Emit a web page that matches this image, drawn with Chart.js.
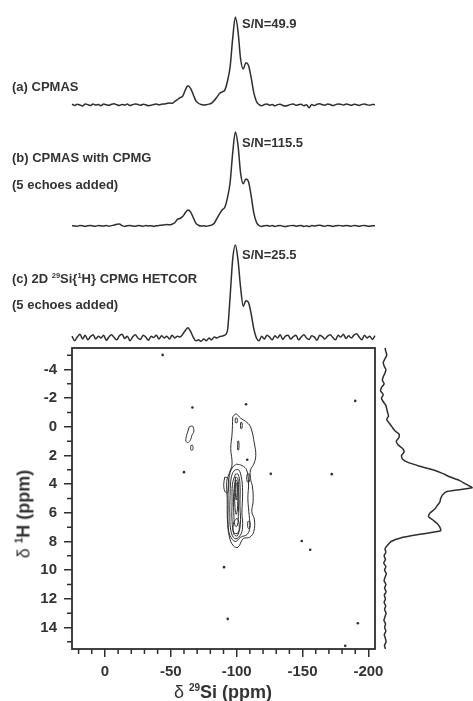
<!DOCTYPE html>
<html>
<head>
<meta charset="utf-8">
<script src="https://cdn.jsdelivr.net/npm/chart.js@4.4.1/dist/chart.umd.min.js"></script>
<style>
  html, body { margin: 0; padding: 0; background: #fff; }
  #fig { position: relative; width: 473px; height: 701px; overflow: hidden; color: #333;
         font-family: "Liberation Sans", Arial, sans-serif; }
  #fig canvas { position: absolute; }
  .lbl { position: absolute; font-weight: bold; font-size: 13px; line-height: 14px; white-space: nowrap; }
  .sp { font-size: 7.5px; position: relative; top: -5px; }
  .title { position: absolute; font-weight: bold; font-size: 18px; white-space: nowrap; line-height: 20px; }
  .title .d { font-weight: normal; }
  .title .sp { font-size: 10px; top: -7px; }
</style>
</head>
<body>
<div id="fig">
  <canvas id="spectra" width="473" height="345" style="left:0;top:0"></canvas>
  <canvas id="hetcor" width="400" height="381" style="left:0;top:320px"></canvas>
  <canvas id="proj" width="95" height="361" style="left:378px;top:340px"></canvas>

  <div class="lbl" style="left:12px;top:80px">(a) CPMAS</div>
  <div class="lbl" style="left:242px;top:17px">S/N=49.9</div>
  <div class="lbl" style="left:12px;top:151px">(b) CPMAS with CPMG</div>
  <div class="lbl" style="left:12px;top:178px">(5 echoes added)</div>
  <div class="lbl" style="left:242px;top:136px">S/N=115.5</div>
  <div class="lbl" style="left:12px;top:272px">(c) 2D <span class="sp">29</span>Si{<span class="sp">1</span>H} CPMG HETCOR</div>
  <div class="lbl" style="left:12px;top:298px">(5 echoes added)</div>
  <div class="lbl" style="left:242px;top:248px">S/N=25.5</div>

  <div class="title" style="left:223px;top:693px;transform:translate(-50%,-50%)"><span class="d">δ</span> <span class="sp">29</span>Si (ppm)</div>
  <div class="title" style="left:25px;top:514px;transform:translate(-50%,-50%) rotate(-90deg)"><span class="d">δ</span> <span class="sp">1</span>H (ppm)</div>
</div>
<script>
// 29Si chemical shift grid (ppm) shared by the three 1D spectra
const ppmSi = [
  25, 23, 21, 19, 17, 15, 13, 11, 9, 7, 5, 3,
  1, -1, -3, -5, -7, -9, -11, -13, -15, -17, -19, -21,
  -23, -25, -27, -29, -31, -33, -35, -37, -39, -41, -43, -45,
  -47, -49, -51, -53, -55, -57, -59, -61, -63, -65, -67, -69,
  -71, -73, -75, -77, -79, -81, -83, -85, -87, -89, -91, -93,
  -95, -97, -99, -101, -103, -105, -107, -109, -111, -113, -115, -117,
  -119, -121, -123, -125, -127, -129, -131, -133, -135, -137, -139, -141,
  -143, -145, -147, -149, -151, -153, -155, -157, -159, -161, -163, -165,
  -167, -169, -171, -173, -175, -177, -179, -181, -183, -185, -187, -189,
  -191, -193, -195, -197, -199, -201, -203, -205
];

// normalised intensities (main Q4 peak = 1)
const specA = [
  0.010, -0.005, 0.008, 0.000, -0.010, 0.012, 0.004, -0.006, 0.010, 0.000, 0.006, -0.008,
  0.011, 0.003, -0.004, 0.009, 0.013, 0.002, -0.006, 0.007, 0.000, 0.010, -0.005, 0.004,
  0.012, 0.006, -0.003, 0.008, 0.002, -0.009, -0.004, 0.006, 0.010, 0.003, 0.009, 0.012,
  0.018, 0.022, 0.020, 0.040, 0.060, 0.085, 0.100, 0.170, 0.220, 0.190, 0.120, 0.050,
  0.020, 0.005, 0.000, 0.004, 0.010, 0.020, 0.050, 0.090, 0.130, 0.150, 0.170, 0.270,
  0.430, 0.760, 1.000, 0.840, 0.520, 0.410, 0.480, 0.450, 0.310, 0.140, 0.040, 0.005,
  -0.008, 0.005, 0.010, -0.004, 0.006, -0.010, 0.004, 0.008, -0.006, -0.012, -0.005, 0.007,
  0.012, -0.003, 0.004, 0.009, -0.008, 0.002, -0.030, 0.005, -0.006, 0.008, 0.014, 0.003,
  -0.002, 0.010, 0.006, -0.007, 0.004, 0.012, 0.008, 0.000, 0.010, 0.006, -0.004, 0.009,
  0.003, -0.005, 0.007, 0.011, 0.002, -0.003, 0.006, 0.004
];
const specB = [
  0.004, 0.000, -0.003, 0.005, 0.002, -0.004, 0.003, 0.006, 0.000, -0.002, 0.004, 0.002,
  0.000, 0.005, -0.003, 0.004, 0.010, 0.018, 0.020, 0.004, -0.004, 0.003, 0.006, 0.000,
  -0.003, 0.004, 0.002, -0.002, 0.005, 0.000, 0.003, -0.004, 0.002, 0.006, 0.008, 0.012,
  0.015, 0.012, 0.020, 0.035, 0.070, 0.080, 0.100, 0.140, 0.170, 0.150, 0.090, 0.030,
  0.008, 0.000, 0.002, -0.002, 0.003, 0.010, 0.030, 0.080, 0.130, 0.170, 0.200, 0.300,
  0.460, 0.780, 1.000, 0.860, 0.560, 0.450, 0.500, 0.470, 0.320, 0.140, 0.040, 0.005,
  -0.004, 0.003, 0.006, -0.002, 0.004, -0.005, 0.002, 0.006, -0.003, -0.006, 0.000, 0.004,
  0.006, -0.002, 0.003, 0.005, -0.004, 0.002, -0.006, 0.004, 0.000, 0.006, 0.008, 0.002,
  -0.002, 0.005, 0.003, -0.004, 0.002, 0.006, 0.004, 0.000, 0.005, 0.003, -0.002, 0.004,
  0.002, -0.003, 0.004, 0.006, 0.000, -0.002, 0.003, 0.002
];
const specC = [
  0.020, -0.030, 0.010, 0.040, -0.010, 0.030, -0.020, 0.015, 0.035, -0.010, 0.020, 0.000,
  0.030, -0.025, 0.010, 0.035, 0.005, -0.020, 0.025, 0.040, -0.005, 0.020, -0.030, 0.010,
  0.035, 0.000, -0.015, 0.030, 0.010, -0.025, 0.020, 0.005, 0.030, -0.010, 0.025, 0.000,
  0.020, -0.010, 0.030, 0.000, 0.020, 0.010, 0.040, 0.080, 0.110, 0.070, 0.010, -0.030,
  -0.020, -0.035, -0.010, -0.030, 0.000, -0.020, 0.010, 0.000, 0.015, 0.020, 0.030, 0.080,
  0.440, 0.850, 1.000, 0.840, 0.540, 0.340, 0.400, 0.380, 0.260, 0.100, 0.000, -0.030,
  0.020, -0.010, 0.030, 0.010, -0.020, 0.025, 0.000, 0.035, -0.015, 0.020, 0.030, -0.010,
  0.015, 0.030, -0.020, 0.010, 0.035, 0.000, -0.015, 0.025, 0.010, -0.025, 0.030, 0.015,
  -0.010, 0.020, 0.035, 0.005, -0.020, 0.030, 0.010, 0.040, -0.005, 0.025, 0.000, 0.030,
  0.045, 0.010, -0.020, 0.030, 0.000, 0.020, -0.015, 0.025
];

// 1H projection of the HETCOR
const ppmH = [
  -5.5, -5.25, -5, -4.75, -4.5, -4.25, -4, -3.75, -3.5, -3.25, -3, -2.75,
  -2.5, -2.25, -2, -1.75, -1.5, -1.25, -1, -0.75, -0.5, -0.25, 0, 0.25,
  0.5, 0.75, 1, 1.25, 1.5, 1.75, 2, 2.25, 2.5, 2.75, 3, 3.25,
  3.5, 3.75, 4, 4.25, 4.5, 4.75, 5, 5.25, 5.5, 5.75, 6, 6.25,
  6.5, 6.75, 7, 7.25, 7.5, 7.75, 8, 8.25, 8.5, 8.75, 9, 9.25,
  9.5, 9.75, 10, 10.25, 10.5, 10.75, 11, 11.25, 11.5, 11.75, 12, 12.25,
  12.5, 12.75, 13, 13.25, 13.5, 13.75, 14, 14.25, 14.5, 14.75, 15, 15.25,
  15.5
];
const projH = [
  0.000, 0.010, 0.020, 0.000, -0.020, -0.010, 0.010, 0.000, -0.020, -0.030, -0.010, -0.040,
  -0.050, -0.020, -0.040, -0.020, 0.010, 0.020, 0.030, 0.040, 0.020, 0.050, 0.080, 0.110,
  0.160, 0.160, 0.130, 0.150, 0.200, 0.220, 0.190, 0.200, 0.270, 0.400, 0.550, 0.660,
  0.750, 0.860, 0.930, 1.000, 0.720, 0.660, 0.640, 0.630, 0.600, 0.570, 0.520, 0.500,
  0.550, 0.600, 0.630, 0.640, 0.400, 0.180, 0.070, 0.030, 0.000, 0.010, -0.010, 0.005,
  -0.015, 0.010, -0.005, 0.015, 0.000, -0.010, 0.010, -0.005, 0.012, -0.008, 0.005, -0.010,
  0.008, -0.005, 0.012, 0.000, -0.012, 0.006, -0.004, 0.010, -0.008, 0.004, 0.012, -0.006,
  0.005
];

// HETCOR contours, [29Si ppm, 1H ppm], lowest level first
const contourOuter = [[-97, -0.7], [-99.5, -0.9], [-103, -0.6], [-106.5, -0.4], [-110.5, 0], [-113.5, 1.2],
  [-114.5, 2], [-113, 2.6], [-110.5, 3], [-110.5, 3.6], [-112, 4.2], [-112.5, 5.2], [-111.5, 5.9],
  [-113.5, 6.5], [-113, 7.3], [-110, 7.7], [-105, 7.8], [-101, 8.4], [-97.5, 8.3], [-94.5, 7.7],
  [-93, 6.5], [-92.8, 5], [-92.5, 3.8], [-94.5, 3.2], [-96.5, 2.6], [-95.5, 1.5], [-96.5, 0.5], [-97, -0.7]];
const contour2 = [[-100, 2.6], [-104, 2.7], [-107.5, 3], [-109, 3.9], [-108.5, 5], [-109.5, 6.2], [-110, 7],
  [-108, 7.5], [-103, 7.7], [-99, 8], [-95, 7.6], [-93.5, 6.8], [-93.5, 5.5], [-93.5, 4.5], [-94.5, 3.4],
  [-97, 2.8], [-100, 2.6]];
const contour3 = [[-99, 3], [-101.5, 3], [-103.5, 3.5], [-104.5, 4.5], [-104, 6], [-104.5, 7], [-102.5, 7.6],
  [-98.5, 7.8], [-95.5, 7.2], [-94.8, 6], [-95, 4.8], [-95.5, 3.8], [-97, 3.2], [-99, 3]];
const contour4 = [[-99, 3.3], [-101, 3.3], [-102.5, 4], [-102.5, 5.5], [-102.8, 6.8], [-101, 7.4], [-98, 7.4],
  [-96.5, 6.6], [-96.5, 5.2], [-96.8, 4], [-99, 3.3]];
const contour5 = [[-99.2, 3.5], [-100.8, 3.6], [-101.5, 4.5], [-101.3, 6], [-100.5, 6.9], [-98.8, 6.9],
  [-97.8, 6], [-97.8, 4.6], [-99.2, 3.5]];
const contour6 = [[-99.3, 3.7], [-100.4, 3.8], [-100.8, 4.6], [-100.5, 5.8], [-99.5, 6.1], [-98.6, 5.4],
  [-98.6, 4.3], [-99.3, 3.7]];
const contour7 = [[-99.4, 3.9], [-100.1, 4], [-100.2, 4.8], [-99.6, 5.1], [-99, 4.6], [-99, 4.1], [-99.4, 3.9]];
const lobeLow = [[-98, 6.6], [-100.5, 6.4], [-102, 7], [-100.5, 7.6], [-98, 7.5], [-97.2, 7], [-98, 6.6]];
const lobeLeft = [[-91, 3.5], [-93.5, 3.6], [-94, 4.1], [-93, 4.6], [-91, 4.5], [-90.2, 4], [-91, 3.5]];
const lobeQ3a = [[-108, 3.3], [-109.5, 3.3], [-110, 3.6], [-109, 3.9], [-108, 3.8], [-107.6, 3.55], [-108, 3.3]];
const lobeQ3b = [[-108.5, 6.6], [-109.8, 6.6], [-110, 7], [-109, 7.1], [-108.3, 6.9], [-108.5, 6.6]];
const speckTop1 = [[-99, -0.6], [-100.3, -0.6], [-100.3, -0.3], [-99, -0.3], [-99, -0.6]];
const speckTop2 = [[-103, -0.3], [-104, -0.3], [-104, 0.1], [-103, 0.1], [-103, -0.3]];
const speckMid = [[-100.8, 1.0], [-101.6, 1.0], [-101.6, 1.6], [-100.8, 1.6], [-100.8, 1.0]];
const islandQ2 = [[-64, 0], [-66.5, -0.05], [-67.5, 0.3], [-66, 0.6], [-65, 0.9], [-63, 1.1], [-61.5, 1],
  [-62, 0.6], [-63, 0.3], [-64, 0]];
const islandDot = [[-65.2, 1.3], [-66.6, 1.3], [-66.6, 1.6], [-65.2, 1.6], [-65.2, 1.3]];
const contours = [contourOuter, contour2, contour3, contour4, contour5, contour6, contour7,
  lobeLow, lobeLeft, lobeQ3a, lobeQ3b, speckTop1, speckTop2, speckMid, islandQ2, islandDot];

// isolated noise points in the 2D map
const noiseSi = [-43.8, -66.4, -107.1, -190, -60, -125.9, -172.2, -108, -149.4, -155.8, -90.4, -93.2, -192, -182.4];
const noiseH = [-5.02, -1.35, -1.58, -1.81, 3.16, 3.28, 3.3, 2.3, 7.96, 8.58, 9.79, 13.4, 13.7, 15.28];

// axis ticks
const siMajor = [0, -50, -100, -150, -200];
const siMinor = [20, 10, -10, -20, -30, -40, -60, -70, -80, -90, -110, -120, -130, -140, -160, -170, -180, -190];
const hMajor = [-4, -2, 0, 2, 4, 6, 8, 10, 12, 14];
const hMinor = [-5, -3, -1, 1, 3, 5, 7, 9, 11, 13, 15];

const ink = '#2e2e2e';
const tickFont = { family: "'Liberation Sans', Arial, sans-serif", size: 15, weight: 'bold' };

// hidden axis whose 0 and 1 land on the given canvas rows / columns
function placedAxis(zeroPx, onePx, size, reverse) {
  const unit = Math.abs(onePx - zeroPx);
  const min = reverse ? -zeroPx / unit : -(size - zeroPx) / unit;
  return { display: false, min: min, max: min + size / unit };
}

function trace(values, axisId) {
  return {
    data: ppmSi.map((x, i) => ({ x: x, y: values[i] })),
    yAxisID: axisId,
    borderColor: ink, borderWidth: 1.5, pointRadius: 0,
    cubicInterpolationMode: 'monotone', clip: false
  };
}

new Chart(document.getElementById('spectra'), {
  type: 'line',
  data: { datasets: [trace(specA, 'ya'), trace(specB, 'yb'), trace(specC, 'yc')] },
  options: {
    responsive: false, animation: false, devicePixelRatio: 1,
    layout: { padding: { left: 72, right: 98, top: 0, bottom: 0 } },
    plugins: { legend: { display: false }, tooltip: { enabled: false } },
    scales: {
      x: { type: 'linear', display: false, min: -205, max: 25, reverse: true },
      ya: placedAxis(105, 17, 345),
      yb: placedAxis(226, 132, 345),
      yc: placedAxis(338, 245, 345)
    }
  }
});

const frameAndMinorTicks = {
  id: 'frameAndMinorTicks',
  afterDraw(chart) {
    const { ctx, chartArea: a, scales: { x, y } } = chart;
    ctx.save();
    ctx.strokeStyle = ink;
    ctx.lineWidth = 1.5;
    ctx.beginPath();
    siMinor.forEach(v => {
      const px = x.getPixelForValue(v);
      ctx.moveTo(px, a.bottom);
      ctx.lineTo(px, a.bottom + 5);
    });
    hMinor.forEach(v => {
      const py = y.getPixelForValue(v);
      ctx.moveTo(a.left, py);
      ctx.lineTo(a.left - 5, py);
    });
    ctx.stroke();
    ctx.lineWidth = 1.8;
    ctx.strokeRect(a.left, a.top, a.right - a.left, a.bottom - a.top);
    ctx.restore();
  }
};

const contourSets = contours.map(ring => ({
  data: ring.map(p => ({ x: p[0], y: p[1] })),
  showLine: true, tension: 0.4, pointRadius: 0,
  borderColor: ink, borderWidth: 1
}));

new Chart(document.getElementById('hetcor'), {
  type: 'scatter',
  data: {
    datasets: contourSets.concat([{
      data: noiseSi.map((x, i) => ({ x: x, y: noiseH[i] })),
      pointRadius: 1.3, pointBorderWidth: 0, backgroundColor: ink
    }])
  },
  options: {
    responsive: false, animation: false, devicePixelRatio: 1,
    // wide margins so edge tick labels never shrink the plot box
    layout: { padding: { left: 0, right: 25, top: 28, bottom: 0 } },
    plugins: { legend: { display: false }, tooltip: { enabled: false } },
    scales: {
      x: {
        type: 'linear', min: -205, max: 25, reverse: true,
        afterBuildTicks: s => { s.ticks = siMajor.map(v => ({ value: v })); },
        afterFit: s => { s.height = 52; },
        ticks: { color: '#333', font: tickFont, padding: 6, maxRotation: 0, autoSkip: false, callback: v => String(v) },
        grid: { drawOnChartArea: false, tickLength: 8, color: ink, lineWidth: 1.5 },
        border: { display: false }
      },
      y: {
        type: 'linear', min: -5.5, max: 15.5, reverse: true,
        afterBuildTicks: s => { s.ticks = hMajor.map(v => ({ value: v })); },
        afterFit: s => { s.width = 72; },
        ticks: { color: '#333', font: tickFont, padding: 7, autoSkip: false, callback: v => String(v) },
        grid: { drawOnChartArea: false, tickLength: 8, color: ink, lineWidth: 1.5 },
        border: { display: false }
      }
    }
  },
  plugins: [frameAndMinorTicks]
});

new Chart(document.getElementById('proj'), {
  type: 'scatter',
  data: {
    datasets: [{
      data: ppmH.map((h, i) => ({ x: projH[i], y: h })),
      showLine: true, tension: 0.2, pointRadius: 0,
      borderColor: ink, borderWidth: 1.5, clip: false
    }]
  },
  options: {
    responsive: false, animation: false, devicePixelRatio: 1,
    layout: { padding: { left: 0, right: 0, top: 8, bottom: 52 } },
    plugins: { legend: { display: false }, tooltip: { enabled: false } },
    scales: {
      x: placedAxis(7, 94, 95, true),
      y: { type: 'linear', display: false, min: -5.5, max: 15.5, reverse: true }
    }
  }
});
</script>
</body>
</html>
